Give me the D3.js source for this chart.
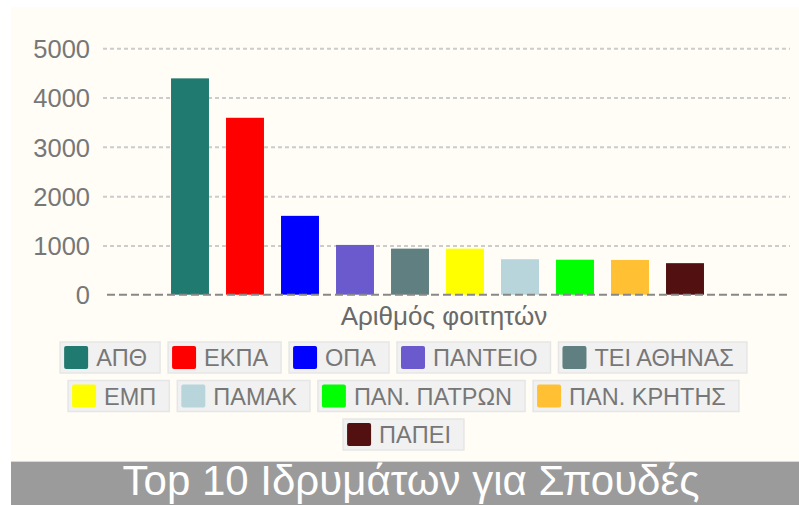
<!DOCTYPE html>
<html>
<head>
<meta charset="utf-8">
<script src="https://cdn.jsdelivr.net/npm/d3@7"></script>
<style>
  body { margin: 0; background: #ffffff; }
  text { font-family: "Liberation Sans", Arial, sans-serif; }
</style>
</head>
<body>
<div id="chart"></div>
<script>
// data
var institutions = ["ΑΠΘ", "ΕΚΠΑ", "ΟΠΑ", "ΠΑΝΤΕΙΟ", "ΤΕΙ ΑΘΗΝΑΣ", "ΕΜΠ", "ΠΑΜΑΚ", "ΠΑΝ. ΠΑΤΡΩΝ", "ΠΑΝ. ΚΡΗΤΗΣ", "ΠΑΠΕΙ"];
var students = [4390, 3590, 1600, 1010, 935, 935, 720, 710, 705, 640];
var colors = ["#217a70", "#ff0000", "#0000ff", "#6a5acd", "#5f7f80", "#ffff00", "#b7d5db", "#00ff00", "#ffc133", "#521010"];
var yTicks = [0, 1000, 2000, 3000, 4000, 5000];
var xTitle = "Αριθμός φοιτητών";
var title = "Top 10 Ιδρυμάτων για Σπουδές";

var W = 799, H = 505;

var svg = d3.select("#chart")
  .append("svg")
    .attr("width", W)
    .attr("height", H);

// panels
svg.append("rect")
  .attr("x", 11).attr("y", 7)
  .attr("width", W - 11).attr("height", 454)
  .attr("fill", "#fffdf6");
svg.append("rect")
  .attr("x", 11).attr("y", 461)
  .attr("width", W - 11).attr("height", H - 461)
  .attr("fill", "#9b9b9b");
svg.append("line")
  .attr("x1", 11).attr("x2", W)
  .attr("y1", 461.5).attr("y2", 461.5)
  .attr("stroke", "#d8d8d8");

// scales
var y = d3.scaleLinear()
  .domain([0, 5000])
  .range([294.7, 48.3]);

var x = d3.scaleBand()
  .domain(institutions)
  .range([162.5, 712.5])
  .paddingInner(0.31)
  .paddingOuter(0.155);

// grid
var grid = svg.append("g")
  .attr("transform", "translate(103,0)")
  .call(d3.axisLeft(y).tickValues(yTicks.slice(1)).tickSize(-(790 - 103)).tickFormat(""));
grid.select(".domain").remove();
grid.selectAll("line")
  .attr("stroke", "#cccccc")
  .attr("stroke-width", 2)
  .attr("stroke-dasharray", "4,3");

// y labels
var yAxis = svg.append("g")
  .attr("transform", "translate(90,0)")
  .call(d3.axisLeft(y).tickValues(yTicks).tickSize(0).tickPadding(0).tickFormat(d3.format("d")));
yAxis.select(".domain").remove();
yAxis.selectAll("text")
  .attr("font-size", 25.5)
  .attr("fill", "#777777")
  .attr("dy", "0.36em");

// bars
svg.append("g").selectAll("rect")
  .data(students)
  .enter().append("rect")
    .attr("x", function(d, i) { return x(institutions[i]); })
    .attr("y", function(d) { return y(d); })
    .attr("width", x.bandwidth())
    .attr("height", function(d) { return y(0) - y(d); })
    .attr("fill", function(d, i) { return colors[i]; });

// zero line
svg.append("line")
  .attr("x1", 107).attr("x2", 790)
  .attr("y1", y(0)).attr("y2", y(0))
  .attr("stroke", "#888888")
  .attr("stroke-width", 2)
  .attr("stroke-dasharray", "8,4");

// x axis title
svg.append("text")
  .attr("x", 444).attr("y", 325)
  .attr("text-anchor", "middle")
  .attr("font-size", 26)
  .attr("fill", "#6a6a6a")
  .text(xTitle);

// legend
var legend = svg.append("g");
var items = [];
institutions.forEach(function(name, i) {
  var g = legend.append("g");
  var box = g.append("rect")
    .attr("height", 31)
    .attr("fill", "#f1f1f1")
    .attr("stroke", "#e6e6e6")
    .attr("stroke-width", 1.5);
  g.append("rect")
    .attr("x", 4).attr("y", 4)
    .attr("width", 24).attr("height", 23)
    .attr("rx", 2)
    .attr("fill", colors[i]);
  var t = g.append("text")
    .attr("x", 36).attr("y", 24)
    .attr("font-size", 23.5)
    .attr("fill", "#777777")
    .text(name);
  var w = 36 + t.node().getComputedTextLength() + 13;
  box.attr("width", w);
  items.push({g: g, w: w});
});

var maxW = 720, gap = 8, rows = [], cur = [], curW = 0;
items.forEach(function(it) {
  var add = (cur.length ? gap : 0) + it.w;
  if (cur.length && curW + add > maxW) {
    rows.push({items: cur, w: curW});
    cur = []; curW = 0; add = it.w;
  }
  cur.push(it); curW += add;
});
rows.push({items: cur, w: curW});

rows.forEach(function(r, ri) {
  var xx = 403.5 - r.w / 2;
  var yy = 342 + ri * 38.5;
  r.items.forEach(function(it) {
    it.g.attr("transform", "translate(" + xx + "," + yy + ")");
    xx += it.w + gap;
  });
});

// title
svg.append("text")
  .attr("x", 411).attr("y", 495)
  .attr("text-anchor", "middle")
  .attr("font-size", 42)
  .attr("fill", "#ffffff")
  .text(title);
</script>
</body>
</html>
